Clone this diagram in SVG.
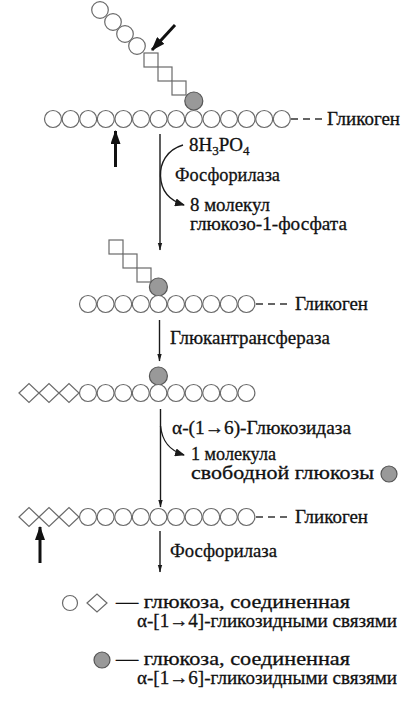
<svg xmlns="http://www.w3.org/2000/svg" width="401" height="706" viewBox="0 0 401 706">
<style>
  .c{fill:#fff;stroke:#6a6a6a;stroke-width:1.2}
  .s{fill:#fff;stroke:#6a6a6a;stroke-width:1.2}
  .g{fill:#999;stroke:#555;stroke-width:1.2}
  .t{font-family:"Liberation Serif","DejaVu Serif",serif;font-size:19px;fill:#111;stroke:#111;stroke-width:0.3}
  .ln{stroke:#1a1a1a;stroke-width:1.4;fill:none}
  .thk{stroke:#111;stroke-width:3;fill:none}
  .dash{stroke:#333;stroke-width:1.5;stroke-dasharray:7,5}
</style>
<defs>
  <marker id="ah" markerUnits="userSpaceOnUse" markerWidth="8" markerHeight="14" viewBox="0 0 14 8" refX="13" refY="4" orient="auto">
    <path d="M0,0 L14,4 L0,8 Z" fill="#1a1a1a"/>
  </marker>
  <marker id="ahs" markerUnits="userSpaceOnUse" markerWidth="10" markerHeight="8" viewBox="0 0 10 8" refX="9" refY="4" orient="auto">
    <path d="M0,0 L10,4 L0,8 Z" fill="#1a1a1a"/>
  </marker>
  <marker id="aht" markerUnits="userSpaceOnUse" markerWidth="14" markerHeight="10" viewBox="0 0 14 10" refX="13" refY="5" orient="auto">
    <path d="M0,0 L14,5 L0,10 Z" fill="#111"/>
  </marker>
  <circle id="cc" r="8.5" class="c"/>
  <path id="dd" d="M-10,0 L0,-9.5 L10,0 L0,9.5 Z" class="s"/>
</defs>

<!-- Stage 1: glycogen with branch -->
<g id="stage1">
  <g id="branch1">
    <circle cx="100" cy="10" r="8.3" class="c"/>
    <circle cx="113" cy="22" r="8.3" class="c"/>
    <circle cx="125" cy="34" r="8.3" class="c"/>
    <circle cx="137" cy="46" r="8.3" class="c"/>
    <rect x="144" y="53" width="14" height="14" class="s"/>
    <rect x="158" y="67" width="14" height="14" class="s"/>
    <rect x="172" y="81" width="14" height="14" class="s"/>
    <circle cx="193.8" cy="101" r="9" class="g"/>
  </g>
  <g id="chain1">
    <use href="#cc" x="53" y="119"/>
    <use href="#cc" x="70.6" y="119"/>
    <use href="#cc" x="88.2" y="119"/>
    <use href="#cc" x="105.8" y="119"/>
    <use href="#cc" x="123.4" y="119"/>
    <use href="#cc" x="141" y="119"/>
    <use href="#cc" x="158.6" y="119"/>
    <use href="#cc" x="176.2" y="119"/>
    <use href="#cc" x="193.8" y="119"/>
    <use href="#cc" x="211.4" y="119"/>
    <use href="#cc" x="229" y="119"/>
    <use href="#cc" x="246.6" y="119"/>
    <use href="#cc" x="264.2" y="119"/>
    <use href="#cc" x="281.8" y="119"/>
    <line x1="291" y1="119" x2="322" y2="119" class="dash"/>
    <text x="327" y="125" class="t" textLength="73" lengthAdjust="spacingAndGlyphs">Гликоген</text>
  </g>
</g>

<!-- Stage 2 -->
<g id="stage2">
  <g id="branch2">
    <rect x="109" y="240" width="14" height="14" class="s"/>
    <rect x="123" y="254" width="14" height="14" class="s"/>
    <rect x="137" y="268" width="14" height="14" class="s"/>
    <circle cx="158.4" cy="287" r="9" class="g"/>
  </g>
  <g id="chain2">
    <use href="#cc" x="88" y="304"/>
    <use href="#cc" x="105.6" y="304"/>
    <use href="#cc" x="123.2" y="304"/>
    <use href="#cc" x="140.8" y="304"/>
    <use href="#cc" x="158.4" y="304"/>
    <use href="#cc" x="176" y="304"/>
    <use href="#cc" x="193.6" y="304"/>
    <use href="#cc" x="211.2" y="304"/>
    <use href="#cc" x="228.8" y="304"/>
    <use href="#cc" x="246.4" y="304"/>
    <line x1="256" y1="304" x2="289" y2="304" class="dash"/>
    <text x="295" y="310" class="t" textLength="73" lengthAdjust="spacingAndGlyphs">Гликоген</text>
  </g>
</g>

<!-- Stage 3 -->
<g id="stage3">
  <circle cx="158.4" cy="376" r="9" class="g"/>
  <use href="#dd" x="29" y="393"/>
  <use href="#dd" x="49" y="393"/>
  <use href="#dd" x="69" y="393"/>
  <use href="#cc" x="88" y="393"/>
  <use href="#cc" x="105.6" y="393"/>
  <use href="#cc" x="123.2" y="393"/>
  <use href="#cc" x="140.8" y="393"/>
  <use href="#cc" x="158.4" y="393"/>
  <use href="#cc" x="176" y="393"/>
  <use href="#cc" x="193.6" y="393"/>
  <use href="#cc" x="211.2" y="393"/>
  <use href="#cc" x="228.8" y="393"/>
  <use href="#cc" x="246.4" y="393"/>
</g>

<!-- Stage 4 -->
<g id="stage4">
  <use href="#dd" x="29" y="517"/>
  <use href="#dd" x="49" y="517"/>
  <use href="#dd" x="69" y="517"/>
  <use href="#cc" x="88" y="517"/>
  <use href="#cc" x="105.6" y="517"/>
  <use href="#cc" x="123.2" y="517"/>
  <use href="#cc" x="140.8" y="517"/>
  <use href="#cc" x="158.4" y="517"/>
  <use href="#cc" x="176" y="517"/>
  <use href="#cc" x="193.6" y="517"/>
  <use href="#cc" x="211.2" y="517"/>
  <use href="#cc" x="228.8" y="517"/>
  <use href="#cc" x="246.4" y="517"/>
  <line x1="256" y1="517" x2="289" y2="517" class="dash"/>
  <text x="295" y="523" class="t" textLength="73" lengthAdjust="spacingAndGlyphs">Гликоген</text>
</g>

<!-- Connectors -->
<g id="connectors">
  <line x1="175" y1="25" x2="152" y2="50" class="thk" marker-end="url(#aht)"/>
  <line x1="115.5" y1="167" x2="115.5" y2="131" class="thk" marker-end="url(#aht)"/>
  <line x1="40" y1="563" x2="40" y2="527" class="thk" marker-end="url(#aht)"/>

  <line x1="160" y1="134" x2="160" y2="250" class="ln" marker-end="url(#ah)"/>
  <path d="M183,145 C166,150 160,164 160.5,176 C161,190 168,200 184,205" class="ln" marker-end="url(#ahs)"/>

  <line x1="159.5" y1="320" x2="159.5" y2="361" class="ln" marker-end="url(#ah)"/>

  <line x1="160.5" y1="409" x2="160.5" y2="507" class="ln" marker-end="url(#ah)"/>
  <path d="M160.5,426 C162,440 168,450 184,455" class="ln" marker-end="url(#ahs)"/>

  <line x1="160" y1="531" x2="160" y2="572" class="ln" marker-end="url(#ah)"/>
</g>

<!-- Labels -->
<g id="labels">
  <text x="189" y="151" class="t">8H<tspan font-size="13" dy="4">3</tspan><tspan dy="-4">PO</tspan><tspan font-size="13" dy="4">4</tspan></text>
  <text x="175" y="181" class="t" textLength="105" lengthAdjust="spacingAndGlyphs">Фосфорилаза</text>
  <text x="190" y="211" class="t" textLength="80" lengthAdjust="spacingAndGlyphs">8 молекул</text>
  <text x="190" y="230" class="t" textLength="157" lengthAdjust="spacingAndGlyphs">глюкозо-1-фосфата</text>
  <text x="170" y="344" class="t" textLength="160" lengthAdjust="spacingAndGlyphs">Глюкантрансфераза</text>
  <text x="172" y="434" class="t" textLength="179" lengthAdjust="spacingAndGlyphs">α-(1→6)-Глюкозидаза</text>
  <text x="191" y="460" class="t" textLength="85" lengthAdjust="spacingAndGlyphs">1 молекула</text>
  <text x="191" y="479" class="t" textLength="183" lengthAdjust="spacingAndGlyphs">свободной глюкозы</text>
  <circle cx="389" cy="474" r="8" class="g"/>
  <text x="170" y="557" class="t" textLength="107" lengthAdjust="spacingAndGlyphs">Фосфорилаза</text>
</g>

<!-- Legend -->
<g id="legend">
  <circle cx="70" cy="603" r="7.5" class="c"/>
  <path d="M87,603 L97,594 L107,603 L97,612 Z" class="s"/>
  <text x="116" y="608" class="t" textLength="234" lengthAdjust="spacingAndGlyphs">— глюкоза, соединенная</text>
  <text x="137" y="627" class="t" textLength="260" lengthAdjust="spacingAndGlyphs">α-[1→4]-гликозидными связями</text>
  <circle cx="102" cy="660" r="8" class="g"/>
  <text x="116" y="665" class="t" textLength="234" lengthAdjust="spacingAndGlyphs">— глюкоза, соединенная</text>
  <text x="137" y="684" class="t" textLength="260" lengthAdjust="spacingAndGlyphs">α-[1→6]-гликозидными связями</text>
</g>
</svg>
